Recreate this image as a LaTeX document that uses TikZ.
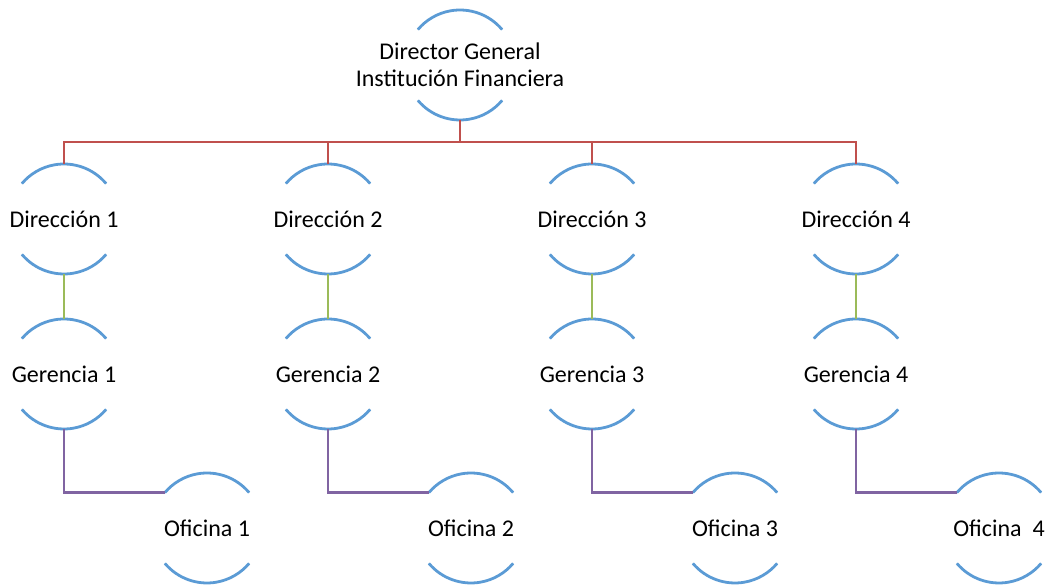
\documentclass[tikz,border=0pt]{standalone}
\usepackage{fontspec}
\setmainfont{Carlito}
\definecolor{arcoazul}{HTML}{5B9BD5}
\definecolor{rojo}{HTML}{C0504D}
\definecolor{verde}{HTML}{9BBB59}
\definecolor{morado}{HTML}{8064A2}
\newcommand{\rotulo}{\fontsize{24}{27}\selectfont}
\begin{document}
\begin{tikzpicture}[x=1pt,y=1pt,
  cargo/.style={inner sep=0,outer sep=0,font=\rotulo,align=center,text=black},
  arco/.style={arcoazul,line width=2.8pt},
  enlace/.style={line width=2.8pt}]
\path[use as bounding box] (0,0) rectangle (1047,586);
\node[cargo] (dg) at (460,521) {Director General\\Institución Financiera};
\foreach \i in {1,...,4} {
  \node[cargo] (d\i) at (64+264*\i-264,367) {Dirección \i};
  \node[cargo] (g\i) at (64+264*\i-264,212) {Gerencia \i};
}
\node[cargo] (o1) at (207,58) {Oficina 1};
\node[cargo] (o2) at (471,58) {Oficina 2};
\node[cargo] (o3) at (735,58) {Oficina 3};
\node[cargo] (o4) at (999,58) {Oficina\ \ 4};
% arcos de cada cargo, radio 55
\foreach \n in {dg,d1,d2,d3,d4,g1,g2,g3,g4,o1,o2,o3,o4} {
  \draw[arco] ([shift={(40:55)}]\n.center) arc[start angle=40,end angle=140,radius=55];
  \draw[arco] ([shift={(220:55)}]\n.center) arc[start angle=220,end angle=320,radius=55];
}
% conectores
\coordinate (bus) at (460,444);
\draw[enlace,rojo] ([yshift=-55]dg.center) -- (dg.center |- bus);
\foreach \i in {1,...,4} {
  \draw[enlace,rojo] (dg.center |- bus) -| ([yshift=55]d\i.center);
  \draw[enlace,verde,line width=2.2pt] ([yshift=-55]d\i.center) -- ([yshift=55]g\i.center);
  \draw[enlace,morado] ([yshift=-55]g\i.center) |- ([shift={(140:55)}]o\i.center);
}
\end{tikzpicture}
\end{document}
